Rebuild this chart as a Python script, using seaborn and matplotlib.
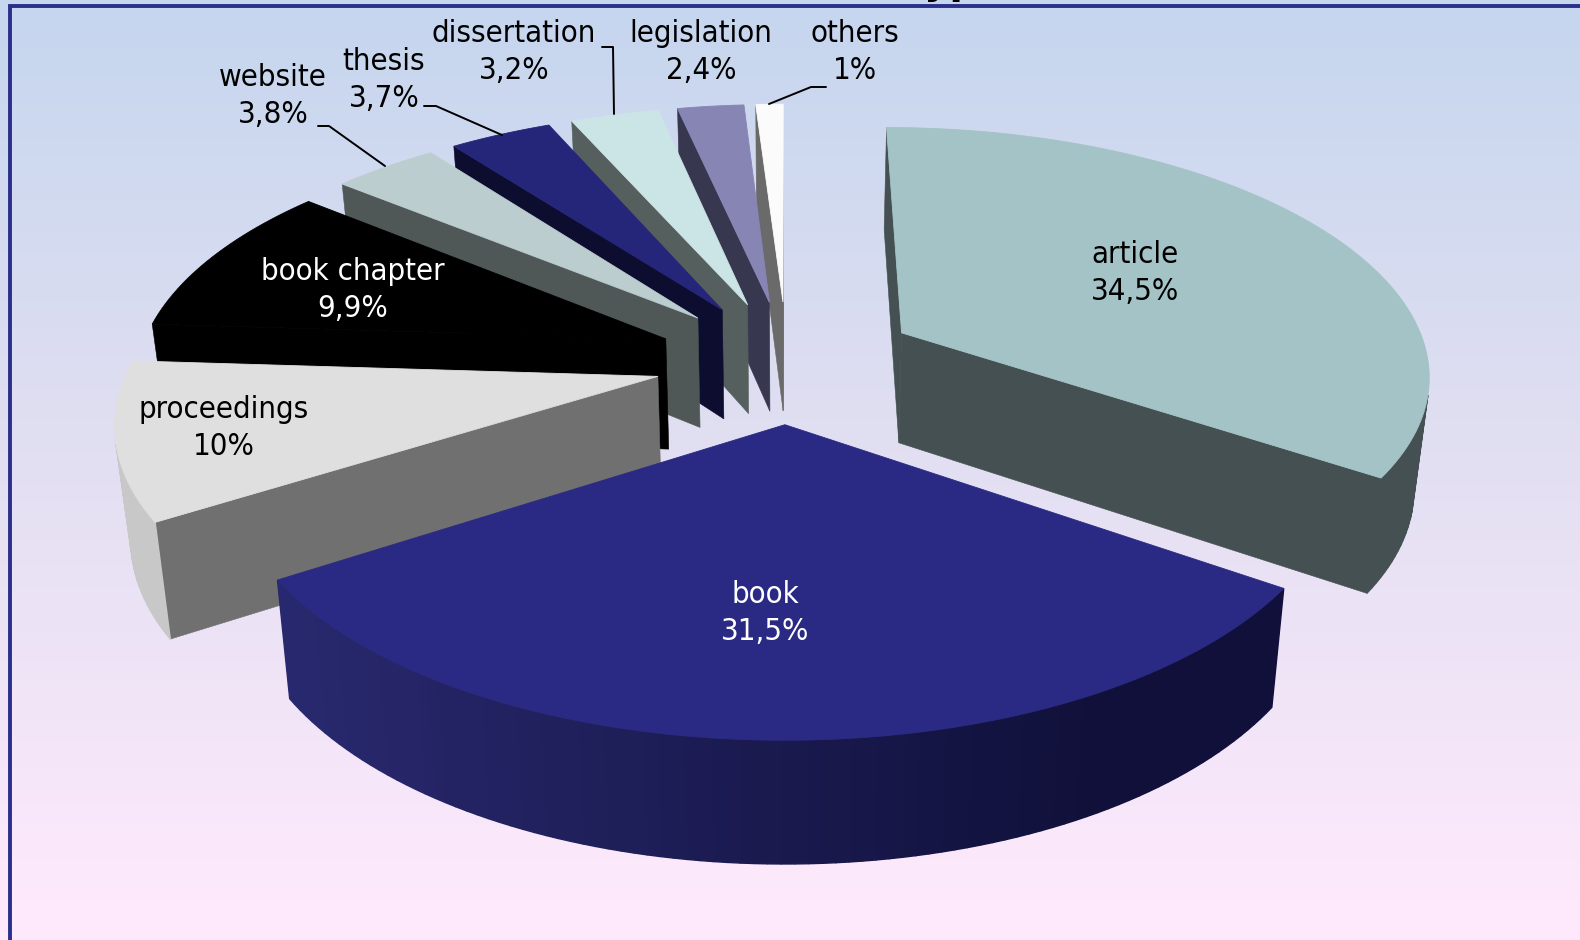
import numpy as np
import matplotlib
matplotlib.use("Agg")
import matplotlib.pyplot as plt
from matplotlib.patches import Polygon
import pandas as pd
import seaborn as sns

# values
types = ["article", "book", "proceedings", "book chapter", "website",
         "thesis", "dissertation", "legislation", "others"]
shares = [34.5, 31.5, 10, 9.9, 3.8, 3.7, 3.2, 2.4, 1]

# styles
top_colors = ["#A4C3C6", "#2A2A85", "#DFDFDF", "#000000", "#BCCDCF",
              "#25257A", "#CBE4E5", "#8685B4", "#FBFBFB"]
side_colors = ["#445052", "#10103A", "#707070", "#000000", "#4F5856",
               "#0D0D30", "#555F5D", "#383750", "#6A6A6A"]
rim_left = ["#445052", "#28286E", "#C8C8C8", "#000000", "#4F5856",
            "#0D0D30", "#555F5D", "#383750", "#6A6A6A"]
rim_right = ["#445052", "#10103A", "#BEBEBE", "#000000", "#4F5856",
             "#0D0D30", "#555F5D", "#383750", "#6A6A6A"]
text_colors = ["black", "white", "black", "white", "black",
               "black", "black", "black", "black"]
label_x = [1135, 765, 224, 353, 273, 384, 514, 701, 855]
label_y = [273, 613, 428, 290, 96, 80, 52, 52, 52]

# leader lines, in picture pixels
leaders = [([318, 329, 385], [126, 126, 166]),
           ([424, 436, 502], [106, 106, 135]),
           ([602, 613, 614], [47, 47, 114]),
           ([769, 811, 826], [104, 87, 87])]

# view of the pie
cx, cy = 787, 361
rad_x, rad_y, tilt = 528, 245, 0.154
depth, depth_tilt, shrink = 111, 0.0824, 0.976
explode = 0.25

df = pd.DataFrame({"type": types, "share": shares, "top": top_colors,
                   "side": side_colors, "left": rim_left, "right": rim_right})
df["start"] = df["share"].cumsum().shift(fill_value=0) / df["share"].sum() * 2 * np.pi
df["end"] = df["share"].cumsum() / df["share"].sum() * 2 * np.pi
df["mid"] = (df["start"] + df["end"]) / 2


def top_xy(u, v):
    d = 1 + tilt * v
    return cx + rad_x * u / d, cy - rad_y * v / d


def low_xy(u, v):
    x, y = top_xy(u, v)
    return cx + (x - cx) * shrink, y + depth / (1 + depth_tilt * v)


def area(p):
    p = np.array(p)
    return 0.5 * np.sum(p[:, 0] * np.roll(p[:, 1], -1) - np.roll(p[:, 0], -1) * p[:, 1])


sns.set_theme(style="white")
plt.rcParams["font.family"] = ["DejaVu Sans"]

fig = plt.figure(figsize=(15.8, 9.4), dpi=100, facecolor="#FEE9FC")
ax = fig.add_axes([0, 0, 1, 1])
ax.set_xlim(0, 1580)
ax.set_ylim(940, 0)
ax.axis("off")

bg = sns.blend_palette(["#C5D6EE", "#E2DFF2", "#FEE9FC"], as_cmap=True)
ax.imshow(np.linspace(0, 1, 256).reshape(-1, 1), cmap=bg, aspect="auto",
          extent=(0, 1580, 905, 0), zorder=0)
ax.set_xlim(0, 1580)
ax.set_ylim(940, 0)
ax.plot([10, 10, 1580], [940, 6, 6], color="#2B2F8A", lw=2.8, zorder=1,
        solid_joinstyle="miter")

# chart title, only the tails of its letters are left on the canvas
ax.text(1004, -6, "Publication Type", ha="right", va="baseline", color="black",
        fontsize=28, fontweight="bold", zorder=1.5)

z = 2
for _, w in df.sort_values("mid", key=lambda s: -np.cos(s)).iterrows():
    ox, oy = explode * np.sin(w["mid"]), explode * np.cos(w["mid"])
    t = np.linspace(w["start"], w["end"], max(3, int(w["share"] * 3)))
    us, vs = ox + np.sin(t), oy + np.cos(t)
    shade = sns.blend_palette([w["left"], w["right"]], 64)

    # radial faces, only the ones turned to the viewer
    for i, sign in [(0, 1), (-1, -1)]:
        q = [top_xy(ox, oy), top_xy(us[i], vs[i]), low_xy(us[i], vs[i]), low_xy(ox, oy)]
        if area(q) * sign < 0:
            ax.add_patch(Polygon(q, fc=w["side"], ec=w["side"], lw=0.4, zorder=z))
    # outer rim in short strips
    for i in range(len(t) - 1):
        q = [top_xy(us[i], vs[i]), top_xy(us[i + 1], vs[i + 1]),
             low_xy(us[i + 1], vs[i + 1]), low_xy(us[i], vs[i])]
        if area(q) < 0:
            xm = np.clip((q[0][0] - 290) / 810, 0, 1)
            c = shade[int(xm * 63)]
            ax.add_patch(Polygon(q, fc=c, ec=c, lw=1.0, zorder=z))
    top = [top_xy(ox, oy)] + [top_xy(a, b) for a, b in zip(us, vs)]
    ax.add_patch(Polygon(top, fc=w["top"], ec=w["top"], lw=0.6, zorder=z + 0.5))
    z += 1

for xs, ys in leaders:
    ax.plot(xs, ys, color="black", lw=1.4, zorder=30)

for name, val, x, y, c in zip(types, shares, label_x, label_y, text_colors):
    txt = f"{val:g}".replace(".", ",") + "%"
    ax.text(x, y, f"{name}\n{txt}", ha="center", va="center", color=c, fontsize=22.3,
            fontstretch="condensed", family="DejaVu Sans", linespacing=1.38, zorder=31)

fig.savefig("out.png", dpi=100)
